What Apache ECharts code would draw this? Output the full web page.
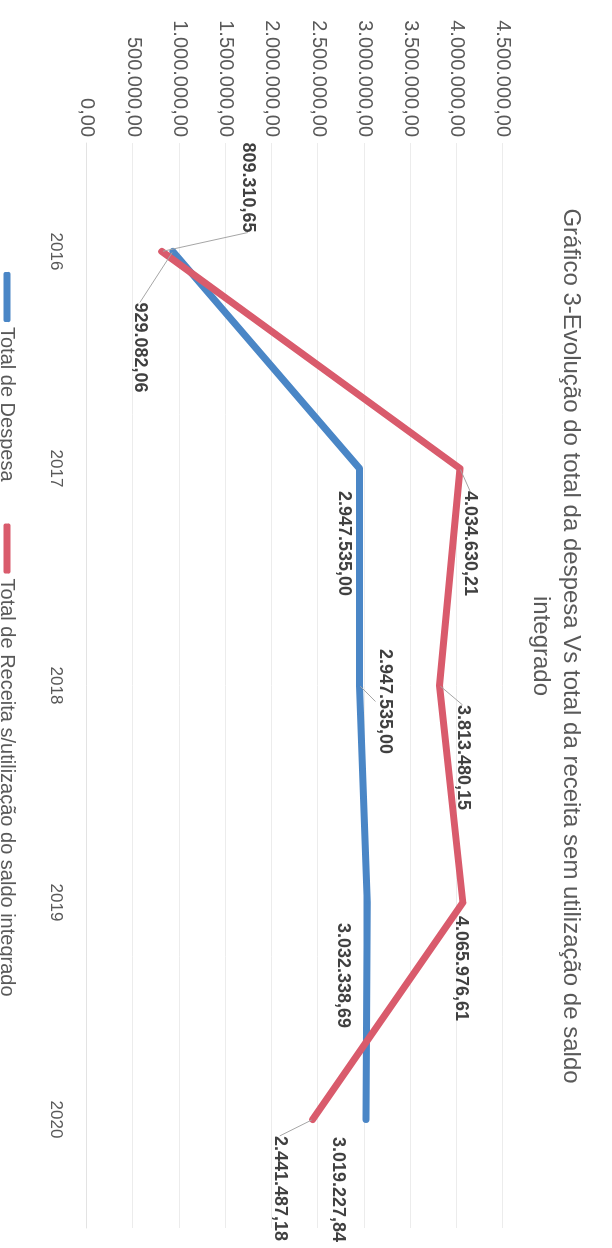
<!DOCTYPE html>
<html>
<head>
<meta charset="utf-8">
<script src="https://cdn.jsdelivr.net/npm/echarts@6/dist/echarts.min.js"></script>
<style>
  html, body { margin: 0; padding: 0; background: #ffffff; overflow: hidden; }
  body { width: 612px; height: 1248px; position: relative; }
  /* The chart is laid out landscape and turned a quarter turn clockwise onto the page */
  #chart {
    position: absolute; left: 612px; top: 0;
    width: 1248px; height: 612px;
    transform-origin: 0 0; transform: rotate(90deg);
  }
</style>
</head>
<body>
<div id="chart"></div>
<script>
// Years on the category axis
const years = ['2016', '2017', '2018', '2019', '2020'];
// Total de Despesa
const despesa = [929082.06, 2947535.00, 2947535.00, 3032338.69, 3019227.84];
// Total de Receita sem utilização do saldo integrado
const receita = [809310.65, 4034630.21, 3813480.15, 4065976.61, 2441487.18];
// Value axis range and step
const valueMin = 0;
const valueMax = 4500000;
const valueStep = 500000;

const seriesNames = ['Total de Despesa', 'Total de Receita s/utilização do saldo integrado'];
const titleText = 'Gráfico 3-Evolução do total da despesa Vs total da receita sem utilização de saldo\nintegrado';

// Label nudges (pixels) away from each point, and which labels get a leader line
const despesaLabelShift = [[96, 33], [75, 16], [16, -25], [73, 24], [70, 28]];
const despesaLeader = [true, false, true, false, false];
const receitaLabelShift = [[-64, -86], [75, -10], [72, -23], [66, 2], [69, 33]];
const receitaLeader = [true, true, true, false, true];

// Portuguese number format: 4.500.000,00
function fmt(n) {
  const parts = Number(n).toFixed(2).split('.');
  parts[0] = parts[0].replace(/\B(?=(\d{3})+(?!\d))/g, '.');
  return parts[0] + ',' + parts[1];
}

const FONT = 'Liberation Sans, Arial, sans-serif';
const GREY = '#595959';

function lineSeries(name, values, color, shifts, leaders) {
  return {
    name: name,
    type: 'line',
    data: values.map((v, i) => ({ value: v, labelLine: { show: leaders[i] } })),
    symbol: 'circle',
    symbolSize: 2,
    showSymbol: true,
    itemStyle: { color: color },
    lineStyle: { color: color, width: 7, cap: 'round', join: 'round' },
    emphasis: { disabled: true },
    label: {
      show: true,
      position: 'inside',
      formatter: p => fmt(p.value),
      fontFamily: FONT,
      fontSize: 18,
      fontWeight: 'bold',
      color: '#404040'
    },
    labelLine: {
      show: true,
      lineStyle: { color: '#a6a6a6', width: 1 }
    },
    labelLayout: p => ({ dx: shifts[p.dataIndex][0], dy: shifts[p.dataIndex][1] })
  };
}

const chart = echarts.init(document.getElementById('chart'), null, { renderer: 'canvas' });
chart.setOption({
  animation: false,
  backgroundColor: '#ffffff',
  title: {
    text: titleText,
    left: 641,
    top: 21,
    textAlign: 'center',
    textStyle: {
      fontFamily: FONT,
      fontSize: 24,
      fontWeight: 'normal',
      color: GREY,
      lineHeight: 30
    }
  },
  legend: {
    data: seriesNames,
    left: 267,
    top: 590,
    icon: 'roundRect',
    itemWidth: 50,
    itemHeight: 7,
    itemGap: 42,
    textStyle: { fontFamily: FONT, fontSize: 20, color: GREY }
  },
  grid: { left: 143, right: 20, top: 109, bottom: 87, containLabel: false },
  xAxis: {
    type: 'category',
    data: years,
    boundaryGap: true,
    axisLine: { show: true, lineStyle: { color: '#e3e3e3', width: 1 } },
    axisTick: { show: false },
    axisLabel: { fontFamily: FONT, fontSize: 17, color: GREY, margin: 23 },
    splitLine: { show: false }
  },
  yAxis: {
    type: 'value',
    min: valueMin,
    max: valueMax,
    interval: valueStep,
    axisLine: { show: false },
    axisTick: { show: false },
    axisLabel: { fontFamily: FONT, fontSize: 20, color: GREY, margin: 6, formatter: v => fmt(v) },
    splitLine: { show: true, lineStyle: { color: '#ececec', width: 1 } }
  },
  series: [
    lineSeries(seriesNames[0], despesa, '#4a86c6', despesaLabelShift, despesaLeader),
    lineSeries(seriesNames[1], receita, '#d95b6c', receitaLabelShift, receitaLeader)
  ]
});
</script>
</body>
</html>
